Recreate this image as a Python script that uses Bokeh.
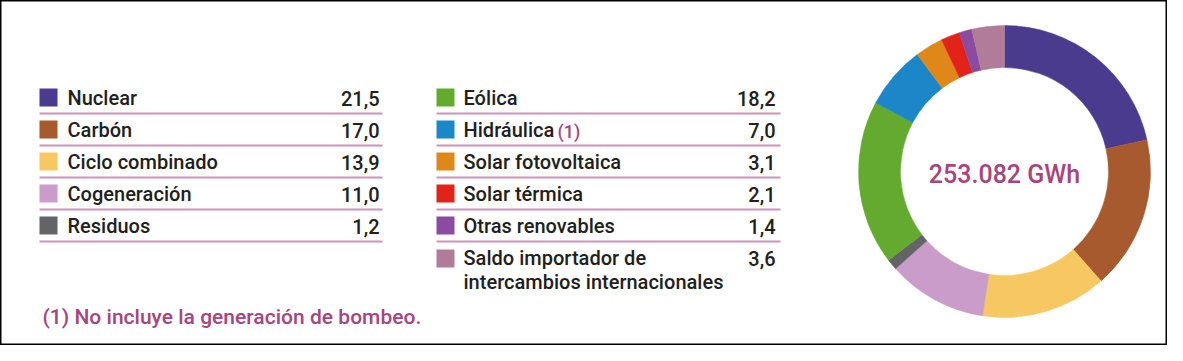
import math
from bokeh.plotting import figure
from bokeh.models import Range1d, ColumnDataSource
from bokeh.core.properties import value
from bokeh.embed import file_html
from bokeh.resources import INLINE

# ---- data ----
categories = ["Nuclear", "Carbón", "Ciclo combinado", "Cogeneración", "Residuos",
              "Eólica", "Hidráulica", "Solar fotovoltaica", "Solar térmica",
              "Otras renovables", "Saldo importador de intercambios internacionales"]
values = [21.5, 17.0, 13.9, 11.0, 1.2, 18.2, 7.0, 3.1, 2.1, 1.4, 3.6]
value_labels = ["21,5", "17,0", "13,9", "11,0", "1,2", "18,2", "7,0", "3,1", "2,1", "1,4", "3,6"]
colors = ["#4b3b8f", "#a65a2e", "#f7c762", "#c99cca", "#636466",
          "#63aa2f", "#1b87c8", "#e0871a", "#e2231a", "#8b4ba0", "#b07c98"]
total_label = "253.082 GWh"
footnote = "(1) No incluye la generación de bombeo."

FONT = value("Roboto Medium")
TXT = "#231f20"
MAG = "#a8457c"
LINE = "#cf93b6"

W, H = 1167, 345
REF_H = 361


def Y(ry):
    return REF_H - ry


def TY(base, fs):
    # text placed so that its baseline sits at reference pixel row `base`
    return REF_H - (base - 0.36 * fs)


p = figure(width=W, height=H, output_backend="svg", toolbar_location=None,
           x_range=Range1d(0, W), y_range=Range1d(REF_H - H, REF_H),
           min_border=0)
p.axis.visible = False
p.grid.visible = False
p.outline_line_color = "black"
p.outline_line_width = 2
p.background_fill_color = "white"

# ---- donut ----
cx, cy = 1004, Y(171)
starts, ends = [], []
cum = 0.0
tot = sum(values)
for v in values:
    starts.append(math.pi / 2 - 2 * math.pi * cum / tot)
    cum += v
    ends.append(math.pi / 2 - 2 * math.pi * cum / tot)
src = ColumnDataSource(dict(start=starts, end=ends, color=colors))
p.annular_wedge(x=cx, y=cy, inner_radius=104, outer_radius=146,
                inner_radius_units="screen", outer_radius_units="screen",
                start_angle="start", end_angle="end", direction="clock",
                fill_color="color", line_color="color", line_width=0.5, source=src)
p.text(x=[cx], y=[TY(183, 25)], text=[total_label], text_font=FONT, text_font_size="25px",
       text_font_style="bold", text_color=MAG, text_align="center",
       text_baseline="alphabetic")

# ---- legend table ----
left_n = 5
rows = []
for i, name in enumerate(categories):
    if i < left_n:
        col, r = 0, i
    else:
        col, r = 1, i - left_n
    rows.append((col, r))

sq_x = [48, 445]
txt_x = [67, 463]
val_x = [379, 775]
line_x0 = [39, 436]
line_x1 = [382, 780]

for i, (name, (col, r)) in enumerate(zip(categories, rows)):
    yc = 97 + 32 * r
    base = 105 + 32 * r
    if name.startswith("Saldo"):
        yc = 258
        base = 265
    p.rect(x=[sq_x[col]], y=[Y(yc)], width=18, height=18, fill_color=colors[i],
           line_color=None)
    if name.startswith("Saldo"):
        p.text(x=[txt_x[col], txt_x[col]], y=[TY(base, 20), TY(base + 24, 20)],
               text=["Saldo importador de", "intercambios internacionales"],
               text_font=FONT, text_font_size="20px", text_color=TXT,
               text_baseline="alphabetic")
    else:
        p.text(x=[txt_x[col]], y=[TY(base, 20)], text=[name], text_font=FONT,
               text_font_size="20px", text_color=TXT, text_baseline="alphabetic")
    if name == "Hidráulica":
        p.text(x=[557], y=[TY(base, 18)], text=["(1)"], text_font=FONT,
               text_font_size="18px", text_color=MAG, text_baseline="alphabetic")
    p.text(x=[val_x[col]], y=[TY(base, 20)], text=[value_labels[i]], text_font=FONT,
           text_font_size="20px", text_color=TXT, text_align="right",
           text_baseline="alphabetic")
    if not name.startswith("Saldo"):
        ly = Y(113 + 32 * r)
        p.line(x=[line_x0[col], line_x1[col]], y=[ly, ly], line_color=LINE, line_width=2)

p.text(x=[42], y=[TY(324, 21)], text=[footnote], text_font=FONT, text_font_size="21px",
       text_color=MAG, text_baseline="alphabetic")

open("out.html", "w").write(file_html(p, INLINE))
